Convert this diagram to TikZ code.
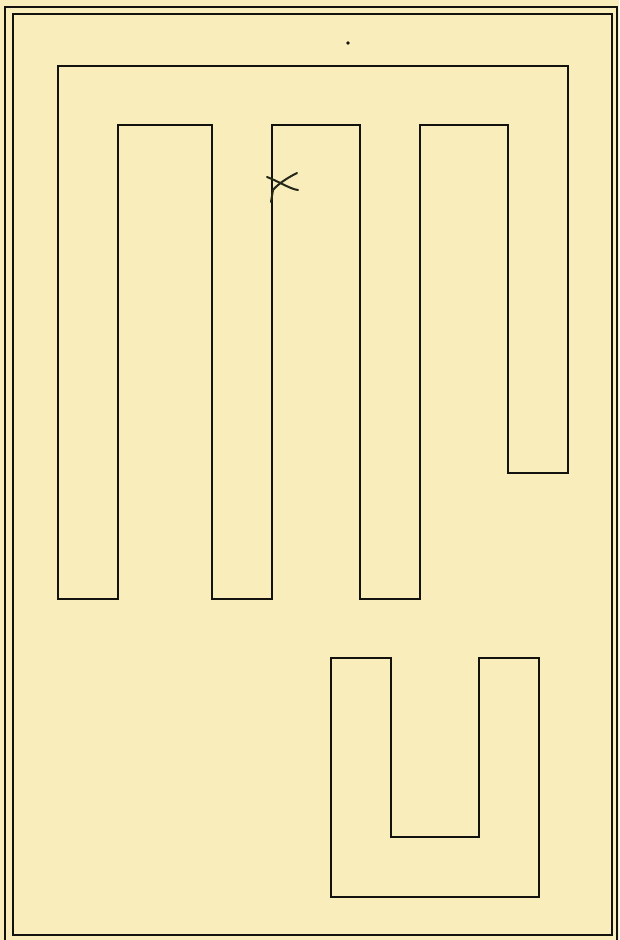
\documentclass[tikz,border=0pt]{standalone}
\usepackage{tikz}
\definecolor{paper}{RGB}{250,237,188}
\definecolor{ink}{RGB}{20,18,14}
\definecolor{pencil}{RGB}{35,40,25}
\tikzset{
  wall/.style={draw=ink, line width=2.7pt, line join=miter},
  frame/.style={draw=ink, line width=2.1pt},
  pencilmark/.style={draw=pencil, line width=2pt, line cap=round}
}
\begin{document}
\begin{tikzpicture}[x=1pt,y=-1pt]
\fill[paper] (0,0) rectangle (619,940);
\useasboundingbox (0,0) rectangle (619,940);
% double frame
\draw[frame] (5,7) rectangle (617,941);
\draw[frame] (13,14) rectangle (612,935);
% serpentine outline
\draw[wall] (58,66) -- (568,66) -- (568,473) -- (508,473) -- (508,125)
  -- (420,125) -- (420,599) -- (360,599) -- (360,125) -- (272,125)
  -- (272,599) -- (212,599) -- (212,125) -- (118,125) -- (118,599)
  -- (58,599) -- cycle;
% U shape
\draw[wall] (331,658) -- (391,658) -- (391,837) -- (479,837) -- (479,658)
  -- (539,658) -- (539,897) -- (331,897) -- cycle;
% pencil mark
\draw[pencilmark] (267,177) .. controls (280,182) and (290,189) .. (298,190);
\draw[pencilmark] (297,173) .. controls (287,178) and (278,184) .. (273,190) -- (271,202);
% dot
\fill[ink] (348,43) circle (1.8pt);
\end{tikzpicture}
\end{document}
